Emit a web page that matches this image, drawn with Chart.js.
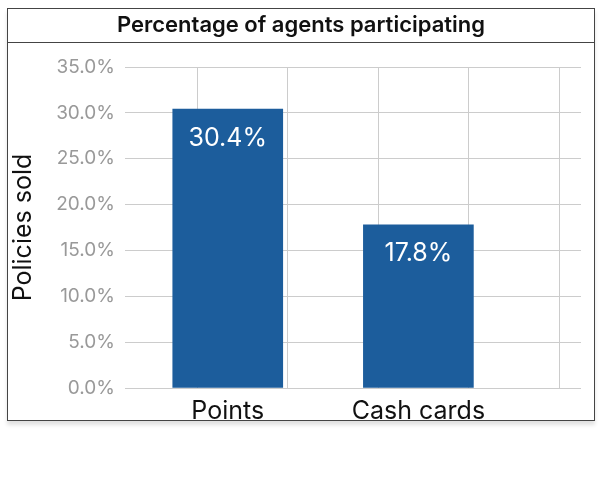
<!DOCTYPE html>
<html><head><meta charset="utf-8">
<script src="https://cdn.jsdelivr.net/npm/chart.js@4.4.0/dist/chart.umd.min.js"></script>
<style>
body{margin:0;background:#fff;width:600px;height:480px;position:relative;font-family:Inter,"Noto Sans",sans-serif}
#box{position:absolute;left:7px;top:8px;width:586px;height:411px;border:1.5px solid #444;box-shadow:0 4px 4px rgba(0,0,0,0.12)}
#title{position:absolute;left:0;top:0;width:100%;height:33px;border-bottom:1.5px solid #444;text-align:center;font-size:22px;font-weight:600;line-height:30px;color:#111}
#wrap{position:absolute;left:0;top:0;width:586px;height:411px}
</style></head><body>
<div id="box"><div id="wrap"><canvas id="c"></canvas></div><div id="title">Percentage of agents participating</div></div>
<script>
const categories = ['Points', 'Cash cards'];
const values = [30.4, 17.8];
const yTicks = [0, 5, 10, 15, 20, 25, 30, 35];

const labelPlugin = {
  id: 'vlabels',
  afterDatasetsDraw(chart) {
    const ctx = chart.ctx;
    chart.getDatasetMeta(0).data.forEach((bar, i) => {
      ctx.save();
      ctx.fillStyle = '#fff';
      ctx.font = '400 25px Inter, "Noto Sans", sans-serif';
      ctx.textAlign = 'center';
      ctx.textBaseline = 'middle';
      ctx.fillText(values[i].toFixed(1) + '%', bar.x, bar.y + 29);
      ctx.restore();
    });
  }
};

new Chart(document.getElementById('c'), {
  type: 'bar',
  data: { datasets: [{ xAxisID: 'x', data: values.map((v, i) => ({ x: i, y: v })), backgroundColor: '#1c5d9c', barThickness: 110 }] },
  options: {
    responsive: true, maintainAspectRatio: false, animation: false,
    layout: { padding: { top: 58, right: 13, left: 0, bottom: 0 } },
    plugins: { legend: { display: false }, tooltip: { enabled: false } },
    scales: {
      x: {
        type: 'linear', min: -0.539, max: 1.853, bounds: 'data', offset: false,
        afterDataLimits: s => { s.min = -0.539; s.max = 1.853; },
        afterBuildTicks: s => { s.ticks = categories.map((c, i) => ({ value: i })); s.min = -0.539; s.max = 1.853; },
        ticks: { callback: v => categories[v], color: '#111', font: { size: 25, family: 'Inter' }, padding: 0, autoSkip: false, maxRotation: 0 },
        grid: { display: false }, border: { display: false },
        afterFit: s => { s.height = 32; }
      },
      x2: {
        type: 'linear', position: 'bottom', min: -0.3, max: 4.74, bounds: 'data', offset: false,
        afterDataLimits: s => { s.min = -0.3; s.max = 4.74; },
        afterBuildTicks: s => { s.ticks = [0, 1, 2, 3, 4].map(v => ({ value: v })); s.min = -0.3; s.max = 4.74; },
        ticks: { display: false }, grid: { color: '#ccc', drawTicks: false }, border: { display: false },
        afterFit: s => { s.height = 0; }
      },
      y: {
        min: 0, max: 35,
        afterBuildTicks: s => { s.ticks = yTicks.map(v => ({ value: v })); },
        ticks: { callback: v => v.toFixed(1) + '%', color: '#999', font: { size: 19, family: 'Inter' }, padding: 10 },
        grid: { color: '#ccc', drawTicks: false }, border: { display: false },
        title: { display: true, text: 'Policies sold', color: '#111', font: { size: 25, family: 'Inter' }, padding: { top: 0, bottom: 6 } },
        afterFit: s => { s.width = 117; }
      }
    }
  },
  plugins: [labelPlugin]
});
</script>
</body></html>
